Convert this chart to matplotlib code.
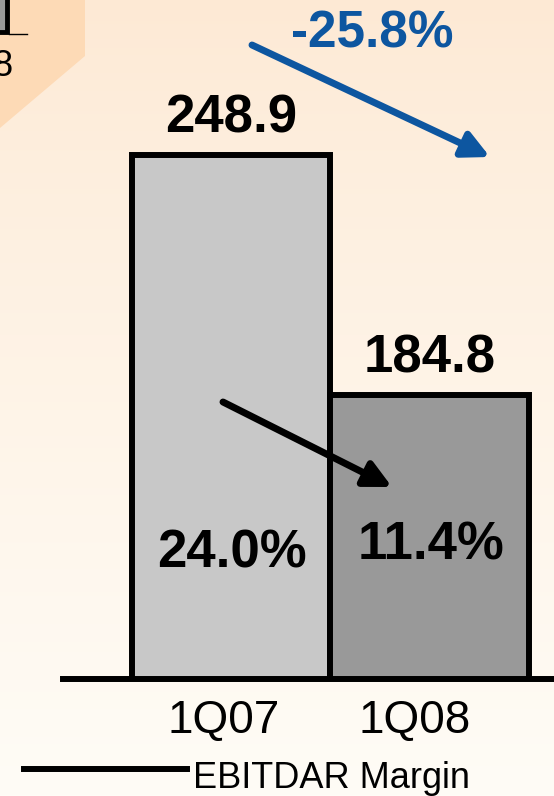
import numpy as np
import matplotlib.pyplot as plt
from matplotlib.patches import Polygon, Rectangle
from matplotlib.lines import Line2D

quarters = ['1Q07', '1Q08']
ebitdar = [248.9, 184.8]
margin = [24.0, 11.4]
change = (ebitdar[1] / ebitdar[0] - 1) * 100

plt.rcParams['font.family'] = ['Liberation Sans', 'DejaVu Sans']

W, H = 554, 796
fig = plt.figure(figsize=(W / 100, H / 100), dpi=100)


def px(x, y):
    # pixel position measured from the top-left corner -> figure fraction
    return (x / W, 1 - y / H)


# slide background: warm peach fading to off-white
bg = fig.add_axes([0, 0, 1, 1], zorder=0)
t = np.linspace(0, 1, H)[:, None, None]
c_top = np.array([253, 233, 212]) / 255
c_bot = np.array([255, 252, 246]) / 255
grad = c_top + (c_bot - c_top) * t ** 0.8
bg.imshow(grad, aspect='auto', extent=[0, W, H, 0])
bg.set_xlim(0, W)
bg.set_ylim(H, 0)
bg.axis('off')

# corner of the neighbouring panel
bg.add_patch(Polygon([(0, 0), (85, 0), (85, 56), (0, 128)], closed=True,
                     fc='#FDDAB6', ec='none'))
bg.add_patch(Rectangle((-12, -12), 19, 44, fc='#999999', ec='black', lw=3.5))
bg.plot([9, 27], [34, 34], color='black', lw=1)
bg.text(12, 76, '8', ha='right', va='baseline', fontsize=26)

# main bar chart
ax = fig.add_axes([63 / W, (H - 679) / H, (W - 63) / W, 679 / H], zorder=2)
ax.patch.set_visible(False)
x = np.arange(len(quarters))
ax.bar(x, ebitdar, width=1.0, color=['#C8C8C8', '#999999'],
       edgecolor='black', linewidth=4.3)
ax.set_xlim(-0.846, 1.627)
y0 = 108.8
ax.set_ylim(y0, 290.2)
for s in ['top', 'left', 'right']:
    ax.spines[s].set_visible(False)
ax.spines['bottom'].set_linewidth(4.3)
ax.set_xticks([])
ax.set_yticks([])

for i, v in enumerate(ebitdar):
    ax.annotate(f'{v:.1f}', (i, v), xytext=(0, 16), textcoords='offset points',
                ha='center', va='baseline', fontsize=38, fontweight='bold')

margin_dy = [80, 85.7]
for i, m in enumerate(margin):
    ax.annotate(f'{m:.1f}%', (i, y0), xytext=(1, margin_dy[i]),
                textcoords='offset points', ha='center', va='baseline',
                fontsize=38, fontweight='bold')

label_dx = [-5.4, -10.8]
for i, q in enumerate(quarters):
    ax.annotate(q, (i, y0), xytext=(label_dx[i], -39), textcoords='offset points',
                ha='center', va='baseline', fontsize=33, annotation_clip=False)

# margin trend arrow
ax.annotate('', xy=px(392, 487), xytext=px(223, 402), xycoords='figure fraction',
            arrowprops=dict(arrowstyle='-|>,head_length=0.8,head_width=0.4',
                            mutation_scale=20, lw=5, color='black',
                            shrinkA=0, shrinkB=0))

# EBITDAR change arrow
blue = '#0D56A0'
ax.annotate('', xy=px(490, 157), xytext=px(252, 45), xycoords='figure fraction',
            arrowprops=dict(arrowstyle='-|>,head_length=0.8,head_width=0.4',
                            mutation_scale=20, lw=5, color=blue,
                            shrinkA=0, shrinkB=0), annotation_clip=False)
fig.text(*px(372, 47), f'{change:.1f}%', ha='center', va='baseline',
         fontsize=37, fontweight='bold', color=blue)

# legend
fig.add_artist(Line2D([24 / W, 187 / W], [1 - 769 / H] * 2, color='black',
                      lw=4.3, transform=fig.transFigure))
fig.text(*px(193, 788), 'EBITDAR Margin', ha='left', va='baseline', fontsize=26)

fig.savefig('out.png', dpi=100)
